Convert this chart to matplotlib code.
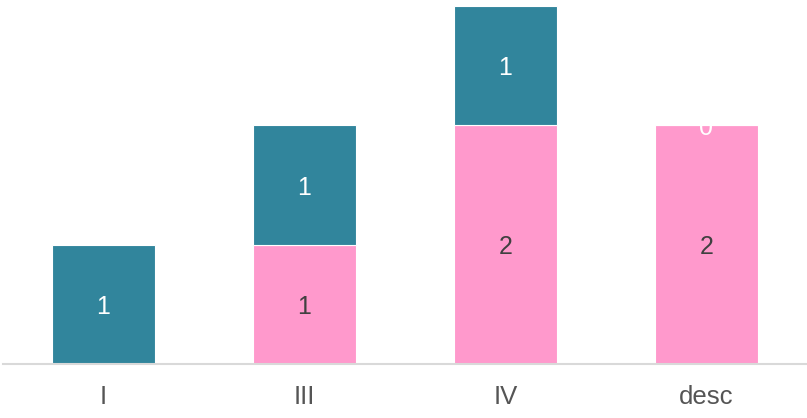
import matplotlib
matplotlib.use("Agg")
import matplotlib.pyplot as plt

categories = ["I", "III", "IV", "desc"]
pink_vals = [0, 1, 2, 2]
teal_vals = [1, 1, 1, 0]

PINK = "#FF99CC"
TEAL = "#31859C"

plt.rcParams["font.family"] = ["Liberation Sans", "DejaVu Sans"]

fig = plt.figure(figsize=(8.07, 4.18), dpi=100)
ax = fig.add_axes([3 / 807, 54 / 418, 804 / 807, 358 / 418])

x = list(range(len(categories)))
w = 0.512
ax.bar(x, pink_vals, width=w, color=PINK, edgecolor="white", linewidth=0.8)
ax.bar(x, teal_vals, width=w, bottom=pink_vals, color=TEAL, edgecolor="white", linewidth=0.8)

# labels in the middle of each segment (nudged down so the digit sits centred)
for i in x:
    if pink_vals[i] > 0:
        ax.annotate(str(pink_vals[i]), (i, pink_vals[i] / 2), xytext=(0, -2),
                    textcoords="offset points", ha="center", va="center",
                    fontsize=18, color="#404040")
    ax.annotate(str(teal_vals[i]), (i, pink_vals[i] + teal_vals[i] / 2), xytext=(0, -2),
                textcoords="offset points", ha="center", va="center",
                fontsize=18, color="white")

ax.set_xlim(-0.5, 3.5)
ax.set_ylim(0, 3)
ax.set_xticks(x)
ax.set_xticklabels(categories, fontsize=18.5, color="#555555")
ax.tick_params(axis="x", length=0, pad=15)
ax.set_yticks([])
for s in ["top", "right", "left"]:
    ax.spines[s].set_visible(False)
ax.spines["bottom"].set_color("#d9d9d9")
ax.spines["bottom"].set_linewidth(1.5)

fig.savefig("out.png", dpi=100)
